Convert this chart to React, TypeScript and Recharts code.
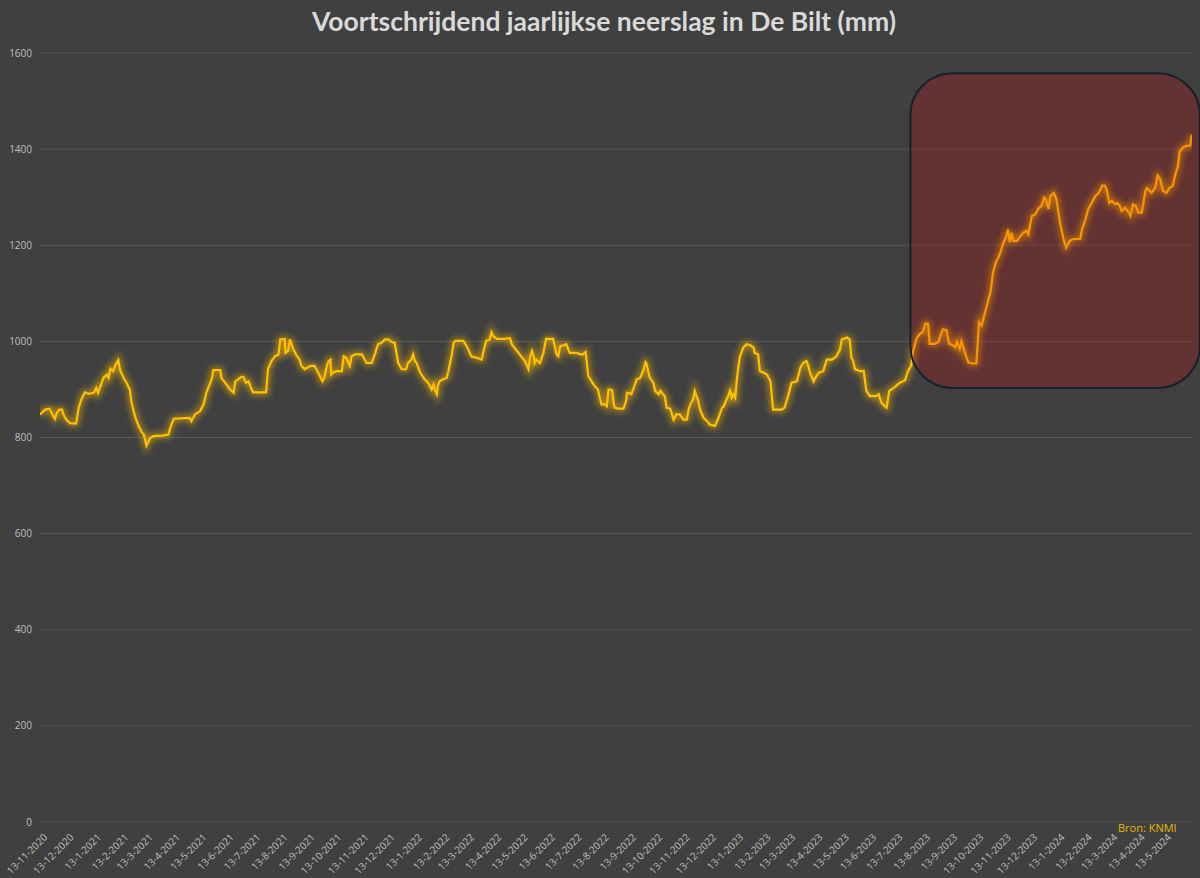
import { LineChart, Line, XAxis, YAxis, CartesianGrid, ReferenceArea } from 'recharts';

// dagen sinds 13-11-2020 en voortschrijdende jaarsom (mm)
const day = [
  0, 6, 11, 14, 17, 19, 22, 25, 27, 30, 34, 41, 44, 47, 51, 55, 61, 64, 66, 69, 72, 76, 78, 80, 83, 86, 89, 91, 95, 98,
  102, 104, 108, 112, 116, 118, 121, 125, 129, 139, 146, 148, 152, 170, 172, 176, 182, 186, 189, 195, 197, 205, 206,
  212, 216, 220, 222, 225, 229, 231, 234, 237, 239, 242, 257, 259, 263, 267, 271, 273, 278, 279, 282, 284, 288, 292,
  295, 297, 301, 307, 312, 314, 318, 321, 323, 326, 328, 330, 331, 333, 337, 343, 345, 348, 352, 354, 358, 366, 367,
  371, 377, 381, 384, 388, 392, 396, 400, 403, 407, 411, 416, 418, 422, 424, 426, 428, 430, 432, 437, 441, 445, 447,
  449, 451, 452, 454, 458, 462, 464, 468, 470, 472, 481, 485, 490, 496, 502, 504, 507, 511, 513, 515, 519, 528, 534,
  536, 542, 545, 551, 555, 557, 559, 561, 562, 564, 568, 572, 575, 583, 587, 589, 591, 595, 598, 602, 610, 614, 617,
  620, 623, 629, 634, 636, 638, 642, 644, 646, 650, 652, 653, 657, 663, 666, 667, 670, 672, 674, 678, 682, 686, 688,
  689, 691, 693, 697, 699, 703, 705, 708, 710, 712, 716, 720, 723, 727, 731, 735, 737, 739, 742, 744, 746, 748, 750,
  754, 758, 761, 767, 771, 775, 777, 780, 782, 784, 786, 788, 790, 792, 795, 799, 803, 807, 811, 812, 816, 818, 822,
  826, 830, 833, 837, 843, 846, 850, 854, 860, 864, 867, 871, 873, 875, 879, 881, 885, 890, 894, 900, 905, 909, 911,
  917, 920, 922, 924, 926, 932, 936, 939, 943, 950, 953, 956, 960, 962, 965, 970, 973, 977, 983, 986, 990, 992, 996,
  1000, 1003, 1006, 1009, 1011, 1017, 1021, 1023, 1026, 1030, 1033, 1037, 1040, 1042, 1045, 1047, 1049, 1052, 1055,
  1059, 1064, 1067, 1070, 1072, 1076, 1080, 1083, 1086, 1089, 1092, 1094, 1098, 1100, 1102, 1104, 1106, 1110, 1114,
  1117, 1121, 1123, 1127, 1131, 1134, 1138, 1141, 1143, 1146, 1148, 1152, 1155, 1159, 1163, 1166, 1170, 1174, 1182,
  1184, 1188, 1191, 1195, 1199, 1203, 1207, 1210, 1212, 1215, 1218, 1222, 1224, 1227, 1229, 1233, 1237, 1239, 1242,
  1245, 1248, 1252, 1256, 1258, 1261, 1263, 1267, 1270, 1273, 1276, 1280, 1283, 1287, 1290, 1293, 1295, 1299, 1303,
  1307, 1308, 1309,
];

const neerslag = [
  848, 858, 860, 848, 839, 851, 858, 858, 846, 837, 830, 829, 862, 879, 894, 891, 893, 903, 893, 908, 924, 931, 924,
  943, 938, 952, 961, 940, 924, 915, 900, 872, 844, 824, 810, 806, 783, 799, 803, 804, 806, 820, 839, 841, 834, 848,
  855, 869, 893, 921, 940, 940, 924, 910, 900, 893, 917, 921, 926, 926, 914, 917, 907, 894, 894, 942, 959, 969, 972,
  1004, 1005, 976, 980, 1004, 983, 969, 962, 949, 942, 949, 949, 942, 928, 917, 924, 949, 959, 962, 931, 935, 938,
  938, 969, 966, 949, 969, 973, 973, 969, 955, 955, 976, 994, 997, 1004, 1004, 998, 997, 955, 942, 942, 955, 962, 973,
  959, 955, 945, 935, 921, 914, 900, 910, 897, 890, 907, 917, 921, 924, 938, 973, 997, 1001, 1001, 990, 969, 966, 962,
  980, 1001, 1004, 1019, 1011, 1005, 1005, 1007, 994, 980, 973, 959, 942, 969, 980, 969, 955, 962, 955, 976, 1005,
  1005, 973, 969, 990, 992, 994, 976, 976, 973, 973, 978, 928, 910, 900, 883, 869, 869, 865, 900, 899, 869, 862, 860,
  860, 876, 893, 892, 890, 900, 921, 924, 942, 957, 955, 938, 924, 914, 897, 890, 897, 890, 886, 862, 860, 837, 848,
  848, 837, 837, 858, 869, 879, 897, 886, 876, 858, 841, 834, 827, 824, 841, 862, 865, 879, 886, 897, 883, 890, 883,
  924, 966, 987, 994, 992, 987, 976, 973, 938, 935, 931, 917, 858, 858, 858, 862, 886, 914, 917, 945, 955, 959, 949,
  935, 917, 924, 935, 938, 962, 962, 969, 983, 1004, 1008, 1004, 966, 959, 942, 938, 938, 897, 886, 886, 890, 872,
  865, 862, 897, 903, 908, 914, 919, 937, 950, 978, 1006, 1016, 1019, 1037, 1037, 995, 995, 999, 1012, 1025, 1023,
  995, 992, 988, 999, 985, 1000, 988, 971, 956, 954, 954, 1040, 1033, 1047, 1075, 1102, 1144, 1164, 1175, 1188, 1202,
  1219, 1233, 1206, 1226, 1209, 1209, 1219, 1226, 1230, 1223, 1261, 1264, 1275, 1282, 1299, 1295, 1275, 1302, 1309,
  1295, 1247, 1213, 1195, 1209, 1213, 1213, 1233, 1254, 1275, 1288, 1302, 1309, 1324, 1324, 1316, 1288, 1292, 1285,
  1288, 1282, 1271, 1278, 1268, 1261, 1285, 1282, 1268, 1268, 1313, 1319, 1313, 1309, 1319, 1345, 1337, 1313, 1309,
  1319, 1323, 1347, 1364, 1395, 1404, 1407, 1407, 1423, 1430,
];

const maandLabels = [
  '13-11-2020', '13-12-2020',
  '13-1-2021', '13-2-2021', '13-3-2021', '13-4-2021', '13-5-2021', '13-6-2021', '13-7-2021', '13-8-2021', '13-9-2021', '13-10-2021', '13-11-2021', '13-12-2021',
  '13-1-2022', '13-2-2022', '13-3-2022', '13-4-2022', '13-5-2022', '13-6-2022', '13-7-2022', '13-8-2022', '13-9-2022', '13-10-2022', '13-11-2022', '13-12-2022',
  '13-1-2023', '13-2-2023', '13-3-2023', '13-4-2023', '13-5-2023', '13-6-2023', '13-7-2023', '13-8-2023', '13-9-2023', '13-10-2023', '13-11-2023', '13-12-2023',
  '13-1-2024', '13-2-2024', '13-3-2024', '13-4-2024', '13-5-2024',
];

const yTicks = [0, 200, 400, 600, 800, 1000, 1200, 1400, 1600];

// gemarkeerde periode (laatste stuk)
const boxFrom = 989;
const boxTo = 1318;
const boxLow = 903;
const boxHigh = 1558;

const START = Date.UTC(2020, 10, 13);
const toDay = (s: string) => {
  const [d, m, y] = s.split('-').map(Number);
  return Math.round((Date.UTC(y, m - 1, d) - START) / 86400000);
};
const tickDays = maandLabels.map(toDay);
const labelByDay: Record<number, string> = {};
maandLabels.forEach((l, i) => (labelByDay[tickDays[i]] = l));

const data = day.map((d, i) => ({ day: d, mm: neerslag[i] }));

const XTick = (props: any) => {
  const { x, y, payload } = props;
  const ax = x + 8;
  const ay = y + 16;
  return (
    <text x={ax} y={ay} transform={`rotate(-45 ${ax} ${ay})`} textAnchor="end" fill="#bfbfbf" fontSize={10} fontFamily="Open Sans">
      {labelByDay[payload.value]}
    </text>
  );
};

const Box = (props: any) => {
  const { x, y, width, height } = props;
  return (
    <rect x={x} y={y} width={width} height={height} rx={42} ry={42} fill="#e00000" fillOpacity={0.22} stroke="#17202b" strokeWidth={2} />
  );
};

export default function App() {
  return (
    <div style={{ position: 'absolute', left: 0, top: 0, width: 1200, height: 878, background: '#404040', overflow: 'hidden' }}>
      <div
        style={{
          position: 'absolute', top: 5, left: 0, width: 1208, textAlign: 'center',
          fontFamily: 'Lato', fontWeight: 700, fontSize: 26.5, color: '#d9d9d9',
        }}
      >
        Voortschrijdend jaarlijkse neerslag in De Bilt (mm)
      </div>
      <LineChart width={1200} height={878} data={data} margin={{ top: 53, right: 8, bottom: 26, left: 0 }}>
        <defs>
          <filter id="glow" x="-5%" y="-30%" width="110%" height="160%">
            <feGaussianBlur stdDeviation="3" />
          </filter>
        </defs>
        <CartesianGrid vertical={false} stroke="#575757" />
        <XAxis
          dataKey="day"
          type="number"
          domain={[0, 1309]}
          ticks={tickDays}
          interval={0}
          height={30}
          tickLine={false}
          axisLine={false}
          tickSize={0}
          tickMargin={0}
          tick={<XTick />}
          allowDataOverflow
        />
        <YAxis
          domain={[0, 1600]}
          ticks={yTicks}
          width={40}
          tickLine={false}
          axisLine={false}
          tick={{ fill: '#bfbfbf', fontSize: 10, fontFamily: 'Open Sans' }}
        />
        <Line dataKey="mm" type="linear" stroke="#ffc000" strokeWidth={6} strokeOpacity={0.55} filter="url(#glow)" dot={false} isAnimationActive={false} />
        <Line dataKey="mm" type="linear" stroke="#ffc000" strokeWidth={2.2} dot={false} isAnimationActive={false} />
        <ReferenceArea x1={boxFrom} x2={boxTo} y1={boxLow} y2={boxHigh} ifOverflow="visible" shape={<Box />} zIndex={1000} />
      </LineChart>
      <div style={{ position: 'absolute', left: 1118, top: 820, fontFamily: 'Open Sans', fontSize: 11, color: '#e6b800' }}>
        Bron: KNMI
      </div>
    </div>
  );
}
